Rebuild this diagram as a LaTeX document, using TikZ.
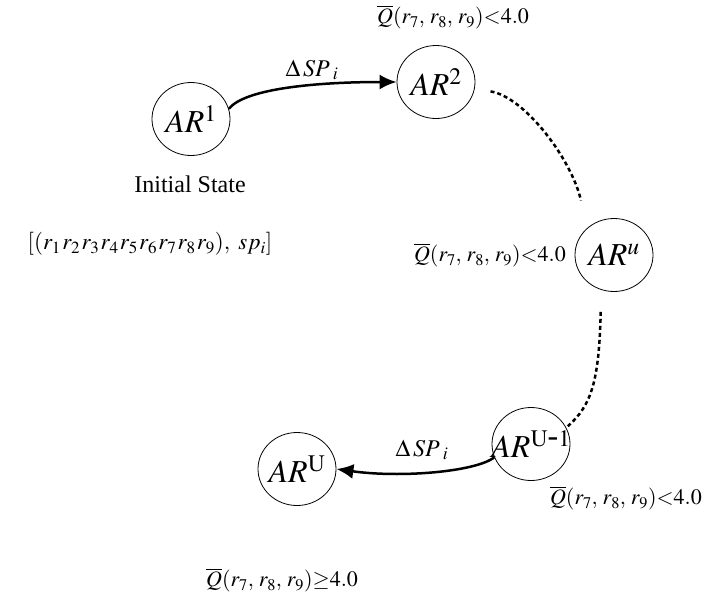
\documentclass[tikz,border=0pt]{standalone}
\usepackage{mathptmx}
\usepackage{fontspec}
\setmainfont{Liberation Serif}
\usetikzlibrary{arrows.meta,shapes.geometric}
\newcommand{\arlabel}[1]{\makebox[0pt][c]{$#1$}}
\newcommand{\qbar}[1]{$\overline{Q}(r_7,\,r_8,\,r_9){#1}4.0$}
\tikzset{
  arstate/.style={ellipse,draw,line width=0.8pt,minimum width=78pt,minimum height=73pt,inner sep=0pt,font=\fontsize{32}{34}\selectfont},
  qcond/.style={inner sep=0pt,font=\fontsize{22}{24}\selectfont},
  plain/.style={inner sep=0pt,font=\fontsize{24}{26}\selectfont},
  trans/.style={line width=2.5pt,-{Latex[length=17pt,width=15pt]}},
  hop/.style={line width=2.5pt,dash pattern=on 4pt off 3pt}
}

\begin{document}
\begin{tikzpicture}[x=1pt,y=-1pt]
\useasboundingbox[fill=white] (0,0) rectangle (704,600);

\node[arstate] (ar1) at (191,119) {\arlabel{AR^{1}}};
\node[arstate] (ar2) at (436,82) {\arlabel{AR^{2}}};
\node[arstate] (aru) at (614,255) {\arlabel{AR^{u}}};
\node[arstate] (arUm1) at (531,444) {\arlabel{AR^{\mathrm{U\mbox{-}1}}}};
\node[arstate] (arU) at (297,469) {\arlabel{AR^{\mathrm{U}}}};

\node[plain] (init) at (190,184) {Initial State};
\node[qcond,font=\fontsize{23}{26}\selectfont] (vec) at (150,244) {$[(r_1\mkern1mu r_2\mkern1mu r_3\mkern1mu r_4\mkern1mu r_5\mkern1mu r_6\mkern1mu r_7\mkern1mu r_8\mkern1mu r_9),\ sp_i]$};

\node[qcond] (qtop) at (453,17) {\qbar{<}};
\node[qcond,anchor=east] (qmid) at (566,255) {\qbar{<}};
\node[qcond,anchor=east] (qright) at (702,498) {\qbar{<}};
\node[qcond] (qfinal) at (282,580) {\qbar{\geq}};

\node[qcond,font=\fontsize{24}{26}\selectfont] (dsp1) at (312,70) {$\Delta\,SP_{\;\,i}$};
\node[qcond,font=\fontsize{24}{26}\selectfont] (dsp2) at (422,450) {$\Delta\,SP_{\;\,i}$};

\draw[trans] (ar1.15) .. controls (245,88) and (320,82) .. (ar2.west);
\draw[trans] (arUm1.200) .. controls (475,472) and (400,478) .. (arU.east);

\draw[hop,shorten <=16pt,shorten >=28pt] (ar2.-10) .. controls (525,97) and (572,160) .. (aru.135);
\draw[hop,shorten <=22pt,shorten >=2pt] (aru.250) .. controls (599,380) and (592,405) .. (arUm1.25);
\end{tikzpicture}
\end{document}
